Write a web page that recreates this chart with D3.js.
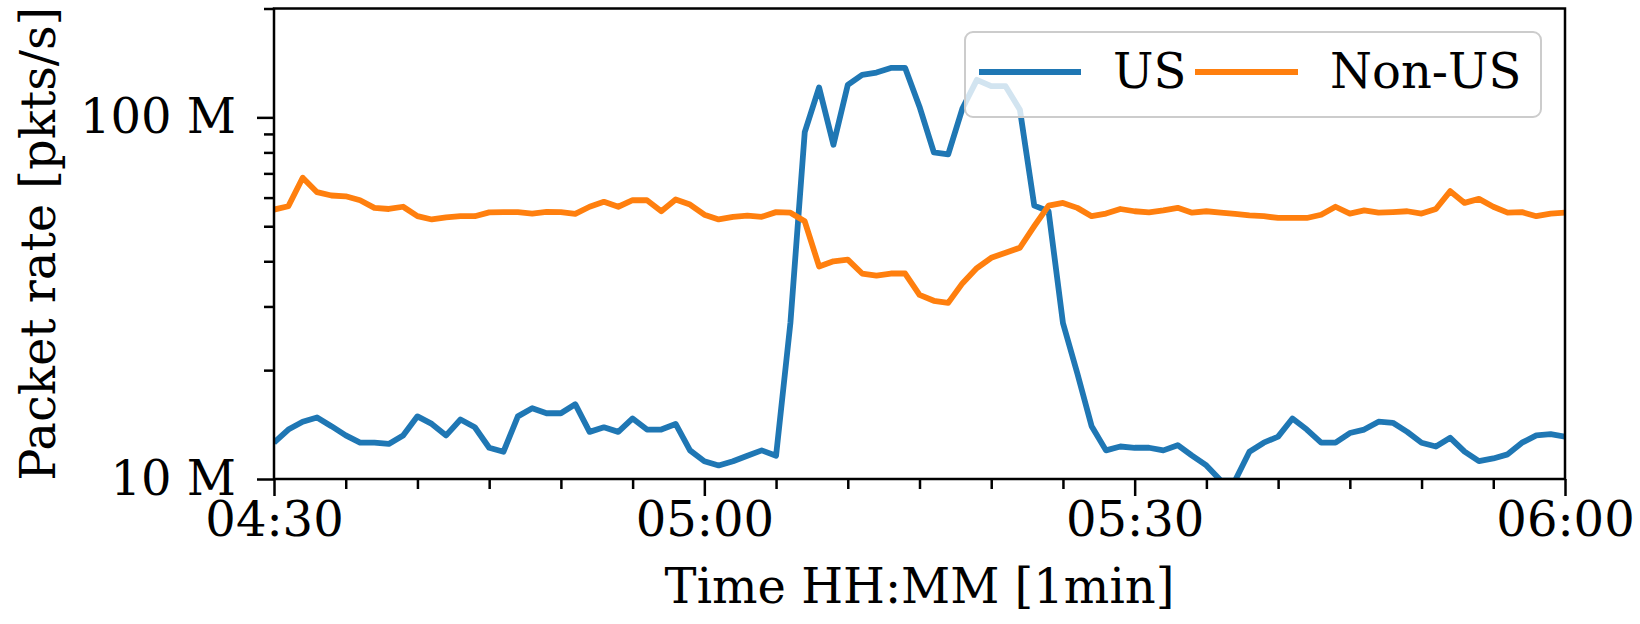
<!DOCTYPE html>
<html>
<head>
<meta charset="utf-8">
<script src="https://cdn.jsdelivr.net/npm/d3@7/dist/d3.min.js"></script>
<style>
  html, body { margin: 0; padding: 0; background: #fff; }
  svg { display: block; }
  text { font-family: "DejaVu Serif", serif; fill: #000; }
</style>
</head>
<body>
<svg id="chart" width="1640" height="624"></svg>
<script>
// ---- data (values in millions of packets/s, one per minute from 04:30 to 06:00) ----
const startTime = "04:30";
const endTime = "06:00";
const seriesNames = ["US", "Non-US"];
const usValues = [
  12.6, 13.7, 14.4, 14.8, 14.0, 13.2, 12.6, 12.6, 12.5, 13.2,
  14.9, 14.2, 13.2, 14.6, 13.9, 12.2, 11.9, 14.9, 15.7, 15.2,
  15.2, 16.1, 13.5, 13.9, 13.5, 14.7, 13.7, 13.7, 14.2, 12.0,
  11.2, 10.9, 11.2, 11.6, 12.0, 11.6, 27.0, 91.0, 121.0, 84.0,
  123.0, 131.0, 133.0, 137.0, 137.0, 107.0, 80.0, 79.0, 106.0, 127.0,
  122.0, 122.0, 105.0, 57.0, 55.0, 27.0, 19.6, 14.0, 12.0, 12.3,
  12.2, 12.2, 12.0, 12.4, 11.6, 10.9, 9.9, 9.9, 11.9, 12.6,
  13.1, 14.7, 13.7, 12.6, 12.6, 13.4, 13.7, 14.4, 14.3, 13.5,
  12.6, 12.3, 13.0, 11.9, 11.2, 11.4, 11.7, 12.6, 13.2, 13.3,
  13.1
];
const nonUsValues = [
  55.6, 56.8, 68.1, 62.1, 60.8, 60.5, 59.0, 56.2, 55.8, 56.6,
  53.3, 52.2, 52.9, 53.3, 53.3, 54.6, 54.7, 54.7, 54.2, 54.8,
  54.7, 54.1, 56.6, 58.4, 56.6, 59.0, 59.0, 55.0, 59.3, 57.4,
  53.8, 52.2, 53.1, 53.5, 53.1, 54.7, 54.5, 51.6, 38.7, 40.0,
  40.4, 37.0, 36.5, 37.0, 37.0, 32.3, 31.1, 30.7, 34.8, 38.3,
  40.9, 42.2, 43.6, 50.0, 57.0, 58.0, 56.2, 53.3, 54.2, 55.8,
  55.0, 54.6, 55.3, 56.2, 54.5, 55.0, 54.5, 54.1, 53.6, 53.3,
  52.7, 52.7, 52.7, 53.8, 56.6, 54.2, 55.3, 54.5, 54.7, 55.0,
  54.2, 55.8, 62.5, 58.0, 59.5, 56.6, 54.5, 54.7, 53.3, 54.2,
  54.5
];
const xTickLabels = ["04:30", "05:00", "05:30", "06:00"];
const yMajorTicks = [10, 100];
const yTickLabels = ["10 M", "100 M"];
const yDomain = [10, 200];
const colors = ["#1f77b4", "#ff7f0e"];
const xLabel = "Time HH:MM [1min]";
const yLabel = "Packet rate [pkts/s]";

// ---- layout ----
const svg = d3.select("#chart");
const L = 274, R = 1565, T = 8.5, B = 479;
const FS = 48;

const parse = d3.utcParse("%H:%M");
const t0 = parse(startTime), t1 = parse(endTime);
const x = d3.scaleUtc().domain([t0, t1]).range([L, R]);
const y = d3.scaleLog().domain(yDomain).range([B, T]);
const timeAt = i => new Date(t0.getTime() + i * 60000);

const series = [usValues, nonUsValues].map((vals, k) => ({
  name: seriesNames[k], color: colors[k],
  points: vals.map((v, i) => ({ t: timeAt(i), v }))
}));

// clip
svg.append("defs").append("clipPath").attr("id", "plotclip")
  .append("rect").attr("x", L).attr("y", T).attr("width", R - L).attr("height", B - T);

// lines
const line = d3.line().x(d => x(d.t)).y(d => y(d.v));
const gLines = svg.append("g").attr("clip-path", "url(#plotclip)");
series.forEach(s => {
  gLines.append("path").datum(s.points)
    .attr("d", line)
    .attr("fill", "none")
    .attr("stroke", s.color)
    .attr("stroke-width", 5.8)
    .attr("stroke-linejoin", "round")
    .attr("stroke-linecap", "butt");
});

// x axis
const xMajor = xTickLabels.map(parse);
const xMinor = d3.utcMinute.every(5).range(t0, new Date(t1.getTime() + 1)).filter(d => !xMajor.some(m => +m === +d));
const gx = svg.append("g").attr("transform", `translate(0,${B})`);
gx.call(d3.axisBottom(x).tickValues(xMinor).tickSize(10).tickFormat(""));
gx.call(g => g.selectAll(".domain").remove());
const gx2 = svg.append("g").attr("transform", `translate(0,${B})`);
gx2.call(d3.axisBottom(x).tickValues(xMajor).tickSize(17).tickPadding(6).tickFormat(d3.utcFormat("%H:%M")));
gx2.call(g => g.selectAll(".domain").remove());
[gx, gx2].forEach(g => {
  g.selectAll(".tick line").attr("stroke", "#000").attr("stroke-width", 2.5);
});
gx2.selectAll(".tick text").attr("font-size", FS).attr("font-family", "DejaVu Serif").attr("fill", "#000");

// y axis
const yMinor = [];
for (let dec = 10; dec < 200; dec *= 10) for (let m = 2; m <= 9; m++) if (dec * m <= 200) yMinor.push(dec * m);
const gy = svg.append("g").attr("transform", `translate(${L},0)`);
gy.call(d3.axisLeft(y).tickValues(yMinor).tickSize(10).tickFormat(""));
gy.call(g => g.selectAll(".domain").remove());
const gy2 = svg.append("g").attr("transform", `translate(${L},0)`);
gy2.call(d3.axisLeft(y).tickValues(yMajorTicks).tickSize(17).tickPadding(21)
  .tickFormat((d, i) => yTickLabels[i]));
gy2.call(g => g.selectAll(".domain").remove());
[gy, gy2].forEach(g => {
  g.selectAll(".tick line").attr("stroke", "#000").attr("stroke-width", 2.5);
});
gy2.selectAll(".tick text").attr("font-size", FS).attr("font-family", "DejaVu Serif").attr("fill", "#000");

// frame
svg.append("rect").attr("x", L).attr("y", T).attr("width", R - L).attr("height", B - T)
  .attr("fill", "none").attr("stroke", "#000").attr("stroke-width", 2.5);

// axis labels
svg.append("text").attr("x", (L + R) / 2).attr("y", 603)
  .attr("text-anchor", "middle").attr("font-size", FS).text(xLabel);
svg.append("text").attr("transform", `translate(55,${(T + B) / 2}) rotate(-90)`)
  .attr("text-anchor", "middle").attr("font-size", FS).text(yLabel);

// legend
const lg = svg.append("g");
lg.append("rect").attr("x", 965).attr("y", 32).attr("width", 576).attr("height", 85)
  .attr("rx", 8).attr("fill", "#fff").attr("fill-opacity", 0.8)
  .attr("stroke", "#cccccc").attr("stroke-width", 2);
const legendItems = [
  { x1: 979, x2: 1081, tx: 1113 },
  { x1: 1195, x2: 1298, tx: 1330 }
];
series.forEach((s, k) => {
  const it = legendItems[k];
  lg.append("line").attr("x1", it.x1).attr("x2", it.x2).attr("y1", 72).attr("y2", 72)
    .attr("stroke", s.color).attr("stroke-width", 5.8);
  lg.append("text").attr("x", it.tx).attr("y", 88).attr("font-size", FS).text(s.name);
});
</script>
</body>
</html>
